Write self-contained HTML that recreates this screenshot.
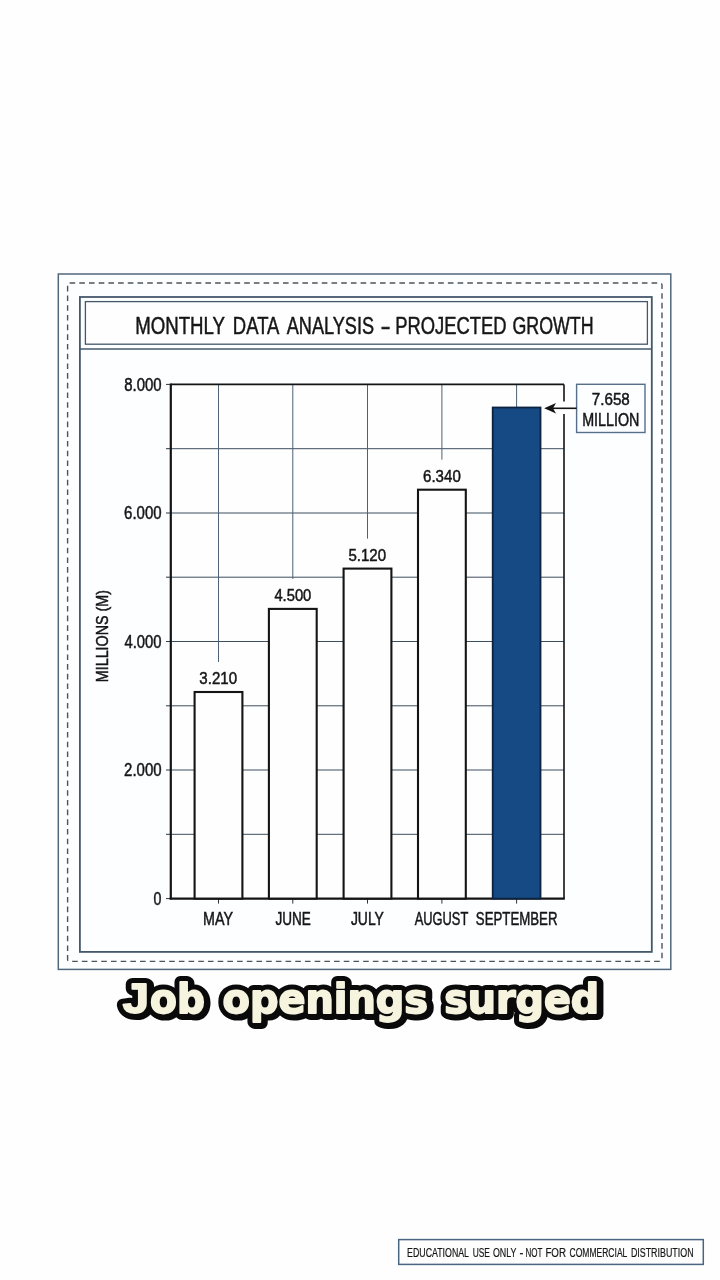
<!DOCTYPE html>
<html lang="en"><head><meta charset="utf-8"><title>Monthly Data Analysis</title>
<style>
html,body{margin:0;padding:0;background:#fefefe;}
body{width:720px;height:1280px;overflow:hidden;position:relative;font-family:"Liberation Sans", Arial, sans-serif;}
svg{position:absolute;left:0;top:0;display:block}
text{font-family:"Liberation Sans", Arial, sans-serif;fill:#161616;stroke:#161616;stroke-width:0.5px}
.cap{font-weight:bold;}
</style></head><body>
<svg width="720" height="1280" viewBox="0 0 720 1280">
<rect x="0" y="0" width="720" height="1280" fill="#fefefe"/>

<rect x="58.3" y="274" width="612.5" height="695.4" fill="#fdfeff" stroke="#51677d" stroke-width="1.5"/>
<rect x="67.6" y="283" width="594.4" height="678.4" rx="2" fill="none" stroke="#4c555c" stroke-width="1.4" stroke-dasharray="5.6 4.1"/>
<rect x="79.9" y="297" width="571.9" height="654.9" fill="#fdfeff" stroke="#44586c" stroke-width="1.8"/>
<rect x="85.4" y="301.6" width="562" height="42.6" fill="#fefefe" stroke="#44586b" stroke-width="1.3"/>
<line x1="80" y1="349" x2="651.8" y2="349" stroke="#44586c" stroke-width="1.6"/>
<text y="333.8" font-size="24.3" ><tspan x="135.21" textLength="89.46" lengthAdjust="spacingAndGlyphs">MONTHLY</tspan> <tspan x="232.85" textLength="45.51" lengthAdjust="spacingAndGlyphs">DATA</tspan> <tspan x="286.7" textLength="87.36" lengthAdjust="spacingAndGlyphs">ANALYSIS</tspan> <tspan x="380.48" textLength="10.12" lengthAdjust="spacingAndGlyphs">-</tspan> <tspan x="395.23" textLength="111.32" lengthAdjust="spacingAndGlyphs">PROJECTED</tspan> <tspan x="512.41" textLength="81.22" lengthAdjust="spacingAndGlyphs">GROWTH</tspan></text>
<rect x="170.8" y="384.4" width="393.2" height="514.2" fill="#fefefe"/>
<line x1="170.8" y1="834.3" x2="564" y2="834.3" stroke="#3d4e5f" stroke-width="1"/>
<line x1="170.8" y1="770.0" x2="564" y2="770.0" stroke="#3d4e5f" stroke-width="1"/>
<line x1="170.8" y1="705.8" x2="564" y2="705.8" stroke="#3d4e5f" stroke-width="1"/>
<line x1="170.8" y1="641.5" x2="564" y2="641.5" stroke="#3d4e5f" stroke-width="1"/>
<line x1="170.8" y1="577.2" x2="564" y2="577.2" stroke="#3d4e5f" stroke-width="1"/>
<line x1="170.8" y1="513.0" x2="564" y2="513.0" stroke="#3d4e5f" stroke-width="1"/>
<line x1="170.8" y1="448.7" x2="564" y2="448.7" stroke="#3d4e5f" stroke-width="1"/>
<line x1="218.5" y1="384.4" x2="218.5" y2="898.6" stroke="#4e6176" stroke-width="1"/>
<line x1="292.8" y1="384.4" x2="292.8" y2="898.6" stroke="#4e6176" stroke-width="1"/>
<line x1="367.5" y1="384.4" x2="367.5" y2="898.6" stroke="#4e6176" stroke-width="1"/>
<line x1="441.9" y1="384.4" x2="441.9" y2="898.6" stroke="#4e6176" stroke-width="1"/>
<line x1="516.6" y1="384.4" x2="516.6" y2="898.6" stroke="#4e6176" stroke-width="1"/>
<line x1="166" y1="898.6" x2="170.8" y2="898.6" stroke="#2a3640" stroke-width="1"/>
<line x1="166" y1="834.3" x2="170.8" y2="834.3" stroke="#2a3640" stroke-width="1"/>
<line x1="166" y1="770.0" x2="170.8" y2="770.0" stroke="#2a3640" stroke-width="1"/>
<line x1="166" y1="705.8" x2="170.8" y2="705.8" stroke="#2a3640" stroke-width="1"/>
<line x1="166" y1="641.5" x2="170.8" y2="641.5" stroke="#2a3640" stroke-width="1"/>
<line x1="166" y1="577.2" x2="170.8" y2="577.2" stroke="#2a3640" stroke-width="1"/>
<line x1="166" y1="513.0" x2="170.8" y2="513.0" stroke="#2a3640" stroke-width="1"/>
<line x1="166" y1="448.7" x2="170.8" y2="448.7" stroke="#2a3640" stroke-width="1"/>
<line x1="166" y1="384.4" x2="170.8" y2="384.4" stroke="#2a3640" stroke-width="1"/>
<line x1="218.5" y1="898.6" x2="218.5" y2="903.6" stroke="#2a3640" stroke-width="1"/>
<line x1="292.8" y1="898.6" x2="292.8" y2="903.6" stroke="#2a3640" stroke-width="1"/>
<line x1="367.5" y1="898.6" x2="367.5" y2="903.6" stroke="#2a3640" stroke-width="1"/>
<line x1="441.9" y1="898.6" x2="441.9" y2="903.6" stroke="#2a3640" stroke-width="1"/>
<line x1="516.6" y1="898.6" x2="516.6" y2="903.6" stroke="#2a3640" stroke-width="1"/>
<line x1="170.8" y1="384.4" x2="564" y2="384.4" stroke="#141414" stroke-width="1.6"/>
<line x1="564" y1="384.4" x2="564" y2="898.6" stroke="#141414" stroke-width="1.6"/>
<line x1="170.8" y1="383.59999999999997" x2="170.8" y2="899.6" stroke="#141414" stroke-width="2.2"/>
<line x1="169.70000000000002" y1="898.6" x2="564.8" y2="898.6" stroke="#141414" stroke-width="2.2"/>
<text x="124.2" y="390.7" font-size="17.6" textLength="37.36" lengthAdjust="spacingAndGlyphs" text-anchor="start" >8.000</text>
<text x="124.05" y="519.2" font-size="17.6" textLength="37.51" lengthAdjust="spacingAndGlyphs" text-anchor="start" >6.000</text>
<text x="124.5" y="647.8" font-size="17.6" textLength="37.05" lengthAdjust="spacingAndGlyphs" text-anchor="start" >4.000</text>
<text x="124.05" y="776.3" font-size="17.6" textLength="37.51" lengthAdjust="spacingAndGlyphs" text-anchor="start" >2.000</text>
<text x="153.4" y="904.6" font-size="17.6" textLength="7.91" lengthAdjust="spacingAndGlyphs" text-anchor="start" >0</text>
<text transform="translate(107.5,682.2) rotate(-90)" font-size="17.2" textLength="92.2" lengthAdjust="spacingAndGlyphs">MILLIONS (M)</text>
<rect x="194.6" y="662.0" width="47.8" height="30" fill="#fefefe"/>
<rect x="194.6" y="692.0" width="47.8" height="206.6" fill="#fefefe" stroke="#141414" stroke-width="2.1"/>
<rect x="268.90000000000003" y="578.9" width="47.8" height="30" fill="#fefefe"/>
<rect x="268.9" y="608.9" width="47.8" height="289.7" fill="#fefefe" stroke="#141414" stroke-width="2.1"/>
<rect x="343.6" y="538.6" width="47.8" height="30" fill="#fefefe"/>
<rect x="343.6" y="568.6" width="47.8" height="330.0" fill="#fefefe" stroke="#141414" stroke-width="2.1"/>
<rect x="418.0" y="459.7" width="47.8" height="30" fill="#fefefe"/>
<rect x="418.0" y="489.7" width="47.8" height="408.9" fill="#fefefe" stroke="#141414" stroke-width="2.1"/>
<rect x="492.7" y="407.5" width="47.8" height="491.1" fill="#164a85" stroke="#0c2342" stroke-width="1.8"/>
<text x="199.37" y="683.7" font-size="17.4" textLength="37.69" lengthAdjust="spacingAndGlyphs" text-anchor="start" >3.210</text>
<text x="274.4" y="600.6" font-size="17.4" textLength="36.95" lengthAdjust="spacingAndGlyphs" text-anchor="start" >4.500</text>
<text x="348.4" y="560.8" font-size="17.4" textLength="37.67" lengthAdjust="spacingAndGlyphs" text-anchor="start" >5.120</text>
<text x="423.05" y="481.7" font-size="17.4" textLength="37.72" lengthAdjust="spacingAndGlyphs" text-anchor="start" >6.340</text>
<text x="203.06" y="924.7" font-size="18" textLength="29.87" lengthAdjust="spacingAndGlyphs" text-anchor="start" >MAY</text>
<text x="275.4" y="924.7" font-size="18" textLength="35.36" lengthAdjust="spacingAndGlyphs" text-anchor="start" >JUNE</text>
<text x="350.89" y="924.7" font-size="18" textLength="33.0" lengthAdjust="spacingAndGlyphs" text-anchor="start" >JULY</text>
<text x="414.7" y="924.7" font-size="18" textLength="53.58" lengthAdjust="spacingAndGlyphs" text-anchor="start" >AUGUST</text>
<text x="475.8" y="924.7" font-size="18" textLength="81.67" lengthAdjust="spacingAndGlyphs" text-anchor="start" >SEPTEMBER</text>
<rect x="548" y="401.5" width="30" height="12.5" fill="#fefefe"/>
<rect x="576.6" y="384.3" width="68.4" height="48.2" fill="#fdfeff" stroke="#55708a" stroke-width="1.4"/>
<line x1="552" y1="408.3" x2="576.6" y2="408.3" stroke="#141414" stroke-width="1.6"/>
<path d="M544.2 408.3 L556 403 L553 408.3 L556 413.6 Z" fill="#141414"/>
<text x="591.74" y="405.3" font-size="17.2" textLength="38.11" lengthAdjust="spacingAndGlyphs" text-anchor="start" >7.658</text>
<text x="582.16" y="425.8" font-size="18" textLength="57.23" lengthAdjust="spacingAndGlyphs" text-anchor="start" >MILLION</text>
<text y="1014.2" font-weight="bold" aria-hidden="true" style="fill:#0a0a0a;stroke:#0a0a0a;stroke-width:12.2;stroke-linejoin:round"><tspan x="124.3" font-size="42.6" textLength="26.23" lengthAdjust="spacingAndGlyphs" style="font-family:'Liberation Sans', sans-serif">J</tspan><tspan x="151.7" font-size="41" textLength="54.84" lengthAdjust="spacingAndGlyphs" style="font-family:'DejaVu Sans', 'Liberation Sans', sans-serif">ob</tspan> <tspan x="224.2" font-size="41" textLength="205.44" lengthAdjust="spacingAndGlyphs" style="font-family:'DejaVu Sans', 'Liberation Sans', sans-serif">openings</tspan> <tspan x="445.8" font-size="41" textLength="155.07" lengthAdjust="spacingAndGlyphs" style="font-family:'DejaVu Sans', 'Liberation Sans', sans-serif">surged</tspan></text>
<text y="1012.6" font-weight="bold" aria-hidden="true" style="fill:#0a0a0a;stroke:#0a0a0a;stroke-width:12.2;stroke-linejoin:round"><tspan x="122.7" font-size="42.6" textLength="26.23" lengthAdjust="spacingAndGlyphs" style="font-family:'Liberation Sans', sans-serif">J</tspan><tspan x="150.1" font-size="41" textLength="54.84" lengthAdjust="spacingAndGlyphs" style="font-family:'DejaVu Sans', 'Liberation Sans', sans-serif">ob</tspan> <tspan x="222.6" font-size="41" textLength="205.44" lengthAdjust="spacingAndGlyphs" style="font-family:'DejaVu Sans', 'Liberation Sans', sans-serif">openings</tspan> <tspan x="444.2" font-size="41" textLength="155.07" lengthAdjust="spacingAndGlyphs" style="font-family:'DejaVu Sans', 'Liberation Sans', sans-serif">surged</tspan></text>
<text y="1012.6" font-weight="bold" style="fill:#f6f4de;stroke:#f6f4de;stroke-width:1.8;stroke-linejoin:round"><tspan x="122.7" font-size="42.6" textLength="26.23" lengthAdjust="spacingAndGlyphs" style="font-family:'Liberation Sans', sans-serif">J</tspan><tspan x="150.1" font-size="41" textLength="54.84" lengthAdjust="spacingAndGlyphs" style="font-family:'DejaVu Sans', 'Liberation Sans', sans-serif">ob</tspan> <tspan x="222.6" font-size="41" textLength="205.44" lengthAdjust="spacingAndGlyphs" style="font-family:'DejaVu Sans', 'Liberation Sans', sans-serif">openings</tspan> <tspan x="444.2" font-size="41" textLength="155.07" lengthAdjust="spacingAndGlyphs" style="font-family:'DejaVu Sans', 'Liberation Sans', sans-serif">surged</tspan></text>
<rect x="398.7" y="1239.6" width="304.6" height="24.8" fill="#fefefe" stroke="#4a6581" stroke-width="1.5"/>
<text y="1256.8" font-size="12" style="stroke-width:0.2px"><tspan x="407.1" textLength="61.59" lengthAdjust="spacingAndGlyphs">EDUCATIONAL</tspan> <tspan x="472.67" textLength="17.28" lengthAdjust="spacingAndGlyphs">USE</tspan> <tspan x="492.9" textLength="23.31" lengthAdjust="spacingAndGlyphs">ONLY</tspan> <tspan x="519.54" textLength="3.86" lengthAdjust="spacingAndGlyphs">-</tspan> <tspan x="525.56" textLength="16.8" lengthAdjust="spacingAndGlyphs">NOT</tspan> <tspan x="545.42" textLength="20.58" lengthAdjust="spacingAndGlyphs">FOR</tspan> <tspan x="569.58" textLength="57.41" lengthAdjust="spacingAndGlyphs">COMMERCIAL</tspan> <tspan x="630.89" textLength="62.68" lengthAdjust="spacingAndGlyphs">DISTRIBUTION</tspan></text>
</svg>
</body></html>
